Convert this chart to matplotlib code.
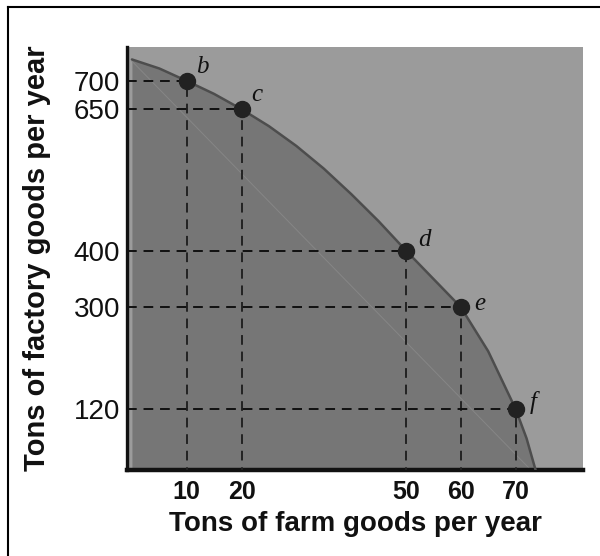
import matplotlib
matplotlib.use("Agg")
import matplotlib.pyplot as plt
from matplotlib.lines import Line2D

# Data
point_labels = ["b", "c", "d", "e", "f"]
farm_goods = [10, 20, 50, 60, 70]
factory_goods = [700, 650, 400, 300, 120]

curve_x = [0, 5, 10, 15, 20, 25, 30, 35, 40, 45, 50, 55, 60, 65, 70, 72, 74]
curve_y = [738, 722, 700, 677, 650, 620, 585, 545, 500, 452, 400, 350, 300, 222, 120, 68, 0]

inner_x = [0, 74]
inner_y = [735, 0]

x_ticks = [10, 20, 50, 60, 70]
y_ticks = [120, 300, 400, 650, 700]

# label offsets (points) - styling
label_offsets = [(7, 6), (7, 6), (9, 3), (10, -2), (10, 0)]

fig = plt.figure(figsize=(6, 5.56), dpi=100)
ax = fig.add_axes([127/600, 1 - 470/556, (583-127)/600, (470-47)/556])

light = "#9b9b9b"
dark = "#767676"
ax.set_facecolor(light)
ax.set_xlim(-0.9, 82.3)
ax.set_ylim(12, 760)

ax.fill_between(curve_x, 0, curve_y, color=dark, lw=0, zorder=1)
ax.plot(inner_x, inner_y, color="#868686", lw=0.7, zorder=2)
ax.plot(curve_x, curve_y, color="#4d4d4d", lw=1.8, zorder=3,
        solid_capstyle="round", solid_joinstyle="round")

for x, y in zip(farm_goods, factory_goods):
    ax.plot([-0.9, x], [y, y], color="#111111", lw=1.4, ls=(0, (5, 3.5)), zorder=4)
    ax.plot([x, x], [0, y], color="#222222", lw=1.4, ls=(0, (5, 3.5)), zorder=4)

ax.plot(farm_goods, factory_goods, "o", color="#222222", ms=11.5, zorder=5)

for lab, x, y, off in zip(point_labels, farm_goods, factory_goods, label_offsets):
    ax.annotate(lab, (x, y), xytext=off, textcoords="offset points",
                ha="left", va="baseline", fontsize=18, style="italic",
                family="Liberation Serif", color="#111111", zorder=6)

ax.set_xticks(x_ticks)
ax.set_xticklabels([str(v) for v in x_ticks], fontsize=18, fontweight="bold",
                   family="Liberation Sans")
ax.set_yticks(y_ticks)
ax.set_yticklabels([str(v) for v in y_ticks], fontsize=20,
                   family="Liberation Sans")
ax.tick_params(axis="both", length=0, colors="#111111")
ax.tick_params(axis="x", pad=7)
ax.tick_params(axis="y", pad=5)

for s in ["top", "right"]:
    ax.spines[s].set_visible(False)
ax.spines["left"].set_linewidth(2.4)
ax.spines["bottom"].set_linewidth(3.2)
ax.spines["left"].set_color("#111111")
ax.spines["bottom"].set_color("#111111")

ax.set_xlabel("Tons of farm goods per year", fontsize=20, fontweight="bold",
              family="Liberation Sans", labelpad=5, color="#111111")
ax.set_ylabel("Tons of factory goods per year", fontsize=21, fontweight="bold",
              family="Liberation Sans", labelpad=16, color="#111111")

# figure border (left and top)
fig.add_artist(Line2D([8/600, 8/600], [0, 1 - 7/556], color="black", lw=1.5,
                      transform=fig.transFigure))
fig.add_artist(Line2D([8/600, 1], [1 - 7/556, 1 - 7/556], color="black", lw=1.5,
                      transform=fig.transFigure))

fig.savefig("out.png", dpi=100, facecolor="white")
